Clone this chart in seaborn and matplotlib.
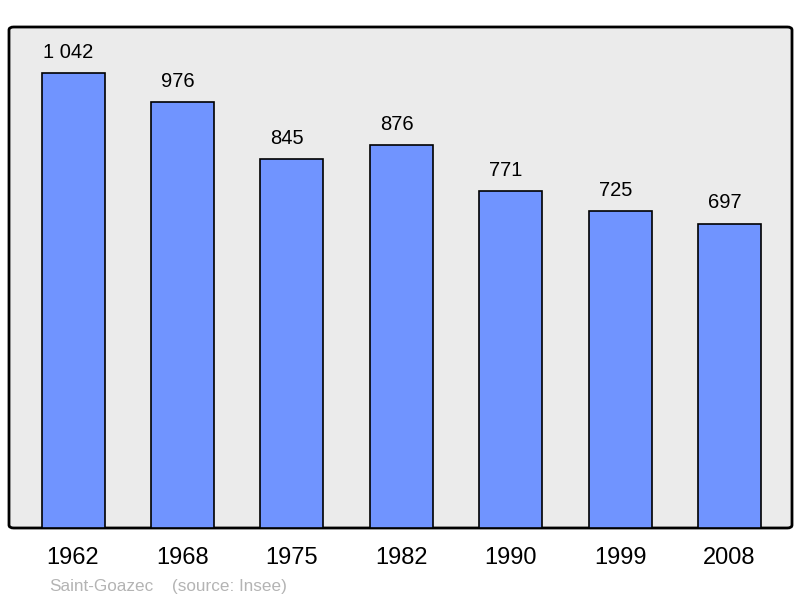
import matplotlib
matplotlib.use("Agg")
import matplotlib.pyplot as plt
import seaborn as sns
import pandas as pd
from matplotlib.patches import FancyBboxPatch

years = ["1962", "1968", "1975", "1982", "1990", "1999", "2008"]
population = [1042, 976, 845, 876, 771, 725, 697]
town = "Saint-Goazec"
source = "(source: Insee)"

sns.set_style("white")
plt.rcParams['font.family'] = ['Liberation Sans', 'DejaVu Sans']

df = pd.DataFrame({"year": years, "pop": population})

fig = plt.figure(figsize=(8, 5.98), dpi=100)
ax = fig.add_axes([9/800, 70/598, 783/800, 501/598])

sns.barplot(data=df, x="year", y="pop", color="#7094ff", saturation=1,
            edgecolor="black", linewidth=1.2, width=0.576, ax=ax, zorder=3)

ax.set_xlim(-0.585, 6.57)
ax.set_ylim(0, 1147)
ax.patch.set_visible(False)
for s in ax.spines.values():
    s.set_visible(False)

bg = FancyBboxPatch((0, 0), 1, 1, boxstyle="round,pad=0,rounding_size=0.006",
                    transform=ax.transAxes, facecolor="#ebebeb", edgecolor="black",
                    linewidth=2, zorder=0, clip_on=False)
ax.add_patch(bg)

labels = [f"{v:,}".replace(",", " ") for v in population]
for p, lab in zip(ax.containers[0], labels):
    ax.annotate(lab, (p.get_x() + p.get_width() / 2, p.get_height()),
                xytext=(-3.3, 8), textcoords="offset points",
                ha="center", va="bottom", fontsize=14.5, color="black")

ax.set_yticks([])
ax.set_xlabel("")
ax.set_ylabel("")
ax.tick_params(axis="x", length=0, pad=14, labelsize=17, colors="black")

fig.text(49/800, 1 - 591/598, town, fontsize=12.3,
         color="#b4b4b4", ha="left", va="baseline")
fig.text(172/800, 1 - 591/598, source, fontsize=12.3,
         color="#b4b4b4", ha="left", va="baseline")

fig.savefig("out.png", dpi=100)
